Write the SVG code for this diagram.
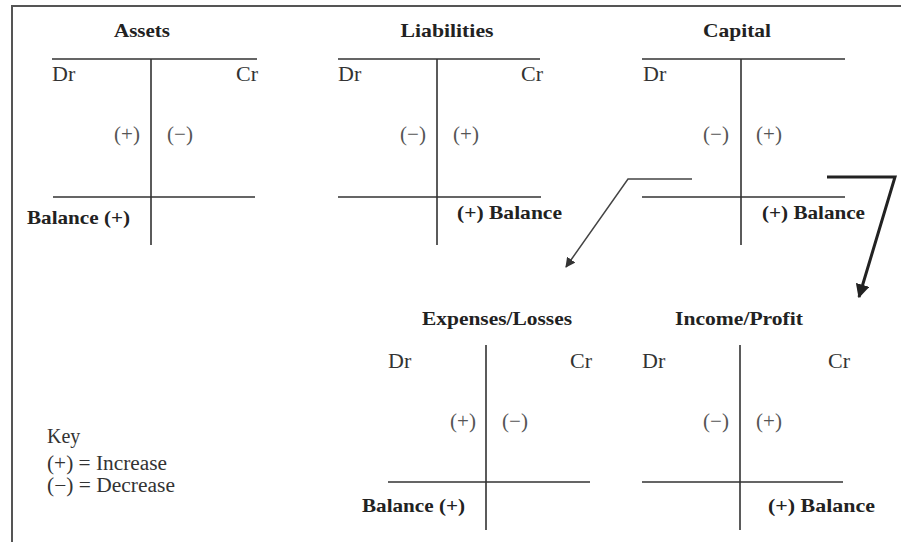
<svg xmlns="http://www.w3.org/2000/svg" width="901" height="542" viewBox="0 0 901 542">
<style>
.ln{stroke:#333;stroke-width:1.6;fill:none}
.ttl{font-family:"Liberation Serif",serif;font-weight:bold;font-size:19px;fill:#222;text-anchor:middle}
.dc{font-family:"Liberation Serif",serif;font-size:22px;fill:#333}
.pm{font-family:"Liberation Serif",serif;font-size:21px;fill:#555;text-anchor:middle}
.bal{font-family:"Liberation Serif",serif;font-weight:bold;font-size:19px;fill:#222}
.key{font-family:"Liberation Serif",serif;font-size:20px;fill:#333}
</style>
<defs>
<marker id="ahThin" viewBox="0 0 10 10" refX="9" refY="5" markerWidth="10" markerHeight="10" orient="auto" markerUnits="userSpaceOnUse"><path d="M0,0 L10,5 L0,10 z" fill="#333"/></marker>
<marker id="ahThick" viewBox="0 0 10 10" refX="9" refY="5" markerWidth="14" markerHeight="14" orient="auto" markerUnits="userSpaceOnUse"><path d="M0,0 L10,5 L0,10 z" fill="#222"/></marker>
</defs>
<rect width="901" height="542" fill="#fff"/>
<g id="frame"><path d="M12,542 V6 H901" stroke="#555" stroke-width="2" fill="none"/></g>

<g id="assets">
<text class="ttl" x="142" y="37" textLength="56" lengthAdjust="spacingAndGlyphs">Assets</text>
<path class="ln" d="M52,59 H257 M151,59 V245 M53,197 H255"/>
<text class="dc" x="52" y="81">Dr</text>
<text class="dc" x="258" y="81" text-anchor="end">Cr</text>
<text class="pm" x="127" y="141">(+)</text>
<text class="pm" x="180" y="141">(−)</text>
<text class="bal" x="27" y="224" textLength="103" lengthAdjust="spacingAndGlyphs">Balance (+)</text>
</g>

<g id="liabilities">
<text class="ttl" x="447" y="37" textLength="93" lengthAdjust="spacingAndGlyphs">Liabilities</text>
<path class="ln" d="M338,59 H540 M437,59 V245 M338,197 H541"/>
<text class="dc" x="338" y="81">Dr</text>
<text class="dc" x="543" y="81" text-anchor="end">Cr</text>
<text class="pm" x="413" y="141">(−)</text>
<text class="pm" x="466" y="141">(+)</text>
<text class="bal" x="457" y="219" textLength="105" lengthAdjust="spacingAndGlyphs">(+) Balance</text>
</g>

<g id="capital">
<text class="ttl" x="737" y="37" textLength="68" lengthAdjust="spacingAndGlyphs">Capital</text>
<path class="ln" d="M642,59 H845 M741,59 V245 M642,197 H845"/>
<text class="dc" x="643" y="81">Dr</text>
<text class="pm" x="716" y="141">(−)</text>
<text class="pm" x="769" y="141">(+)</text>
<text class="bal" x="762" y="219" textLength="103" lengthAdjust="spacingAndGlyphs">(+) Balance</text>
</g>

<g id="expenses">
<text class="ttl" x="497" y="325" textLength="150" lengthAdjust="spacingAndGlyphs">Expenses/Losses</text>
<path class="ln" d="M486,345 V530 M388,482 H590"/>
<text class="dc" x="388" y="368">Dr</text>
<text class="dc" x="592" y="368" text-anchor="end">Cr</text>
<text class="pm" x="463" y="428">(+)</text>
<text class="pm" x="515" y="428">(−)</text>
<text class="bal" x="362" y="512" textLength="103" lengthAdjust="spacingAndGlyphs">Balance (+)</text>
</g>

<g id="income">
<text class="ttl" x="739" y="325" textLength="128" lengthAdjust="spacingAndGlyphs">Income/Profit</text>
<path class="ln" d="M740,345 V530 M642,482 H843"/>
<text class="dc" x="642" y="368">Dr</text>
<text class="dc" x="850" y="368" text-anchor="end">Cr</text>
<text class="pm" x="716" y="428">(−)</text>
<text class="pm" x="769" y="428">(+)</text>
<text class="bal" x="768" y="512" textLength="107" lengthAdjust="spacingAndGlyphs">(+) Balance</text>
</g>

<g id="key">
<text class="key" x="47" y="443">Key</text>
<text class="key" x="47" y="470" textLength="120" lengthAdjust="spacingAndGlyphs">(+) = Increase</text>
<text class="key" x="47" y="492" textLength="128" lengthAdjust="spacingAndGlyphs">(−) = Decrease</text>
</g>

<g id="connectors">
<polyline points="692,179 628,179 566,267" fill="none" stroke="#444" stroke-width="1.5" marker-end="url(#ahThin)"/>
<polyline points="827,177 895,177 859,297" fill="none" stroke="#222" stroke-width="3" marker-end="url(#ahThick)"/>
</g>
</svg>
